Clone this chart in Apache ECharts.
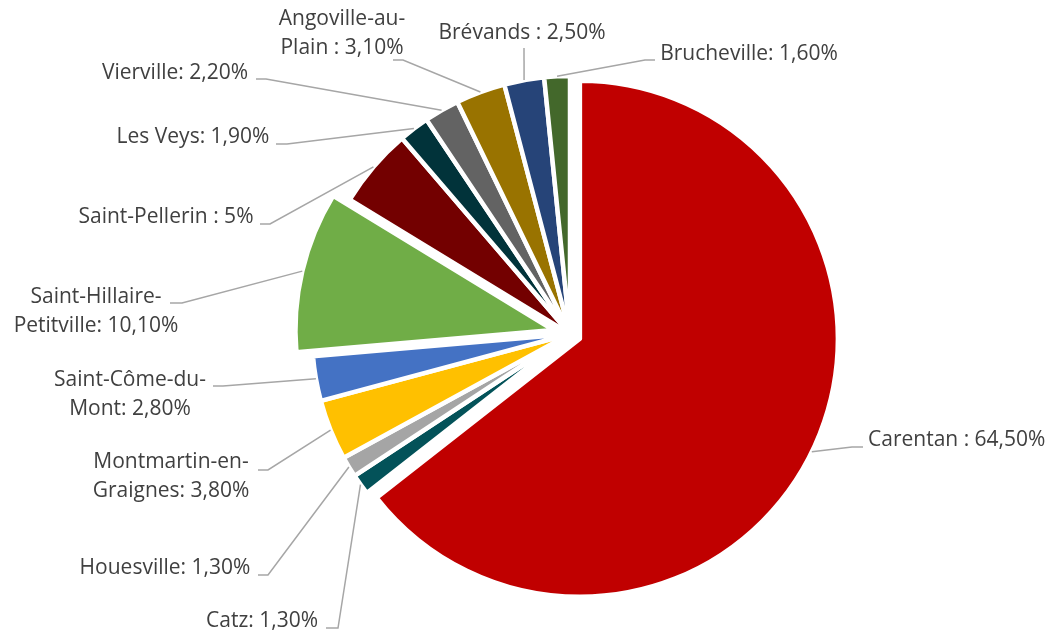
<!DOCTYPE html>
<html>
<head>
<meta charset="utf-8">
<script src="https://cdn.jsdelivr.net/npm/echarts@6/dist/echarts.min.js"></script>
<style>
html,body{margin:0;padding:0;background:#fff;}
#chart{width:1048px;height:632px;}
</style>
</head>
<body>
<div id="chart"></div>
<script>
// ---- data ----
const communes = ["Carentan","Catz","Houesville","Montmartin-en-Graignes","Saint-Côme-du-Mont","Saint-Hillaire-Petitville","Saint-Pellerin","Les Veys","Vierville","Angoville-au-Plain","Brévands","Brucheville"];
const shares = [64.5, 1.3, 1.3, 3.8, 2.8, 10.1, 5, 1.9, 2.2, 3.1, 2.5, 1.6];
const labelTexts = ["Carentan : 64,50%","Catz: 1,30%","Houesville: 1,30%","Montmartin-en-\nGraignes: 3,80%","Saint-Côme-du-\nMont: 2,80%","Saint-Hillaire-\nPetitville: 10,10%","Saint-Pellerin : 5%","Les Veys: 1,90%","Vierville: 2,20%","Angoville-au-\nPlain : 3,10%","Brévands : 2,50%","Brucheville: 1,60%"];
const colors = ["#C00000","#035259","#A5A5A5","#FFC000","#4472C4","#70AD47","#730000","#01333A","#636363","#997300","#264478","#43682B"];

// ---- label placement (x, y, align, line end x, line end y, bend x) ----
const labelPlace = [
  [868, 440, 'left',   863, 447, 852],
  [262, 621, 'center', 326, 628, 338],
  [165, 568, 'center', 258, 575, 268],
  [171, 477, 'center', 258, 470, 268],
  [130, 395, 'center', 213, 386, 223],
  [96,  312, 'center', 170, 303, 182],
  [166, 217, 'center', 260, 224, 270],
  [193, 137, 'center', 276, 144, 287],
  [175, 73,  'center', 256, 79,  266],
  [342, 34,  'center', 393, 60,  403],
  [522, 33,  'center', 524, 48,  524],
  [749, 54,  'center', 655, 60,  645]
];

const HILL = 5;
const CENTER = [570, 334];
const RADIUS = 258;
const OFFSET_CARENTAN = 11;
const OFFSET_HILL = 17;

// explosion offsets per slice (only Carentan and Saint-Hillaire are pulled out)
const explode = shares.map((v, i) => i === 0 ? OFFSET_CARENTAN : (i === HILL ? OFFSET_HILL : 0));
const total = shares.reduce((a, b) => a + b, 0);
const midAngles = (function () {
  let acc = 0;
  return shares.map(v => { const m = (acc + v / 2) / total * 2 * Math.PI; acc += v; return m; });
})();

function buildData(mode) {
  return communes.map((name, i) => {
    const item = { name: name, value: shares[i] };
    const own = mode === 'main' ? i !== HILL : (mode === 'hill' ? i === HILL : false);
    if (mode === 'labels') {
      item.itemStyle = { color: 'rgba(0,0,0,0)', borderWidth: 0 };
      item.label = { show: true, formatter: labelTexts[i] };
      item.labelLine = { show: true };
      return item;
    }
    if (own) {
      item.itemStyle = { color: colors[i], borderColor: '#ffffff', borderWidth: 4.5 };
      if (i === 0 || i === HILL) item.selected = true;
    } else {
      item.itemStyle = { color: 'rgba(0,0,0,0)', borderWidth: 0 };
    }
    item.label = { show: false };
    item.labelLine = { show: false };
    return item;
  });
}

function layoutFn(params) {
  const i = params.dataIndex;
  const p = labelPlace[i];
  const pts = params.labelLinePoints;
  const out = { x: p[0], y: p[1], align: p[2], verticalAlign: 'middle' };
  if (pts && pts.length) {
    const a = midAngles[i];
    const start = [pts[0][0] + explode[i] * Math.sin(a), pts[0][1] - explode[i] * Math.cos(a)];
    out.labelLinePoints = [start, [p[5], p[4]], [p[3], p[4]]];
  }
  return out;
}

const baseSeries = {
  type: 'pie',
  center: CENTER,
  radius: RADIUS,
  startAngle: 90,
  clockwise: true,
  avoidLabelOverlap: false,
  selectedMode: 'multiple',
  animation: false,
  emphasis: { disabled: true },
  label: { show: false },
  labelLine: { show: false }
};

const chart = echarts.init(document.getElementById('chart'), null, { renderer: 'canvas' });
chart.setOption({
  backgroundColor: '#ffffff',
  animation: false,
  series: [
    Object.assign({}, baseSeries, { selectedOffset: OFFSET_CARENTAN, data: buildData('main') }),
    Object.assign({}, baseSeries, { selectedOffset: OFFSET_HILL, data: buildData('hill'), z: 3 }),
    Object.assign({}, baseSeries, {
      selectedMode: false,
      silent: true,
      z: 4,
      data: buildData('labels'),
      label: {
        show: true,
        position: 'outside',
        color: '#404040',
        fontFamily: 'Open Sans',
        fontSize: 21,
        lineHeight: 29
      },
      labelLine: {
        show: true,
        length: 10,
        length2: 10,
        lineStyle: { color: '#A6A6A6', width: 1.5 }
      },
      labelLayout: layoutFn
    })
  ]
});
</script>
</body>
</html>
